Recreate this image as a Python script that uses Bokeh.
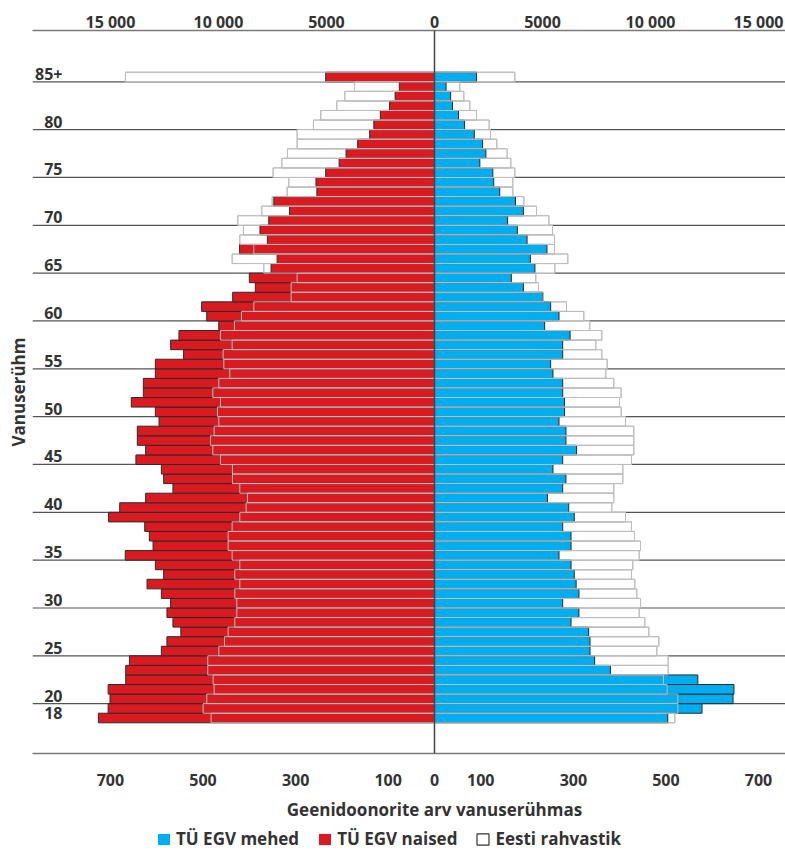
from bokeh.plotting import figure
from bokeh.layouts import column
from bokeh.models import (Range1d, LinearAxis, FixedTicker, CustomJSTickFormatter,
                          Span, Legend, LegendItem, ColumnDataSource, Title)
from bokeh.core.properties import value
from bokeh.embed import file_html
from bokeh.resources import INLINE

# ---------------- data (ages 18 ... 84, 85+) ----------------
ages = [str(a) for a in range(18, 85)] + ["85+"]
age_pos = list(range(18, 86))

women_donors = [726, 705, 701, 705, 667, 667, 659, 590, 578, 548,
                565, 578, 570, 590, 621, 585, 603, 668, 608, 616,
                626, 704, 680, 624, 565, 585, 590, 645, 624, 642,
                642, 595, 603, 655, 629, 629, 603, 603, 542, 570,
                552, 466, 492, 503, 436, 387, 400, 353, 340, 421,
                361, 377, 358, 313, 347, 254, 256, 235, 206, 191,
                166, 140, 131, 117, 97, 85, 76, 235]
women_pop = [10340, 10710, 10540, 10201, 10247, 10494, 10494, 9984, 9722, 9552,
             9244, 9151, 9151, 9244, 9012, 9244, 9012, 9367, 9552, 9552,
             9367, 9012, 8719, 8657, 9012, 9352, 9352, 9907, 10262, 10370,
             10201, 9984, 10046, 9907, 10262, 9984, 9475, 9753, 9784, 9367,
             9907, 9259, 8935, 8364, 6636, 6636, 6358, 7901, 9367, 8364,
             9012, 8843, 9105, 7995, 7514, 6821, 6744, 7469, 7068, 6806,
             6358, 6358, 5602, 5263, 4522, 4152, 3704, 14306]
men_donors = [504, 578, 645, 647, 569, 380, 346, 336, 336, 333,
              295, 312, 277, 312, 306, 302, 295, 269, 295, 295,
              277, 302, 290, 244, 277, 284, 256, 277, 307, 284,
              284, 269, 281, 281, 277, 277, 256, 251, 277, 277,
              293, 238, 269, 251, 234, 192, 166, 217, 207, 243,
              200, 179, 158, 192, 175, 141, 128, 126, 98, 111,
              104, 86, 65, 52, 39, 35, 25, 91]
men_pop = [11127, 11265, 11265, 10772, 10602, 10818, 10818, 10293, 10386, 9923,
           9738, 9475, 9537, 9367, 9275, 9120, 9182, 9475, 9537, 9259,
           9120, 8843, 8210, 8302, 8302, 8719, 8719, 9120, 9228, 9228,
           9228, 8843, 8642, 8565, 8642, 8302, 7932, 7994, 7747, 7469,
           7747, 7191, 6914, 6111, 5030, 4815, 4691, 5571, 6173, 5556,
           5556, 5463, 5293, 4722, 4136, 3627, 3627, 3718, 3534, 3364,
           2886, 2593, 2531, 1944, 1636, 1358, 1173, 3718]

top_ticks = [-15000, -10000, -5000, 0, 5000, 10000, 15000]
bottom_ticks = [-700, -500, -300, -100, 0, 100, 300, 500, 700]
grid_labels = ["85+", "80", "75", "70", "65", "60", "55", "50", "45", "40",
               "35", "30", "25", "20"]
first_label = "18"
x_title = "Geenidoonorite arv vanuserühmas"
y_title = "Vanuserühm"
legend_labels = ["TÜ EGV mehed", "TÜ EGV naised", "Eesti rahvastik"]

# ---------------- styling ----------------
FONT = "Open Sans"
RED = "#da1a21"
BLUE = "#00aeef"
DARK = "#2b2b2b"
GREY = "#bdbdbd"
TXT = "#333333"

K = 15000 / 700          # population per donor on the shared scale
X0, X1 = -868.4, 758.3
xr = Range1d(X0, X1)

p = figure(width=785, height=793, x_range=xr,
           y_range=Range1d(14.29, 89.86), output_backend="svg",
           toolbar_location=None, y_axis_location=None,
           min_border_left=32, min_border_right=0,
           min_border_top=30, min_border_bottom=40)
p.extra_x_ranges = {"pop": Range1d(X0 * K, X1 * K)}
p.xgrid.visible = False
p.ygrid.visible = False
p.outline_line_color = None

src = ColumnDataSource(dict(
    y=age_pos,
    wd=[-v for v in women_donors],
    wp=[-v for v in women_pop],
    md=men_donors,
    mp=men_pop,
))

# horizontal guide lines at labelled ages
gy = [(85 if g == "85+" else int(g)) - 0.5 for g in grid_labels]
p.segment(x0=[X0] * len(gy), x1=[X1] * len(gy), y0=gy, y1=gy,
          line_color="#555555", line_width=1.2)

# layer 1: population bars
p.hbar(y="y", left="wp", right=0, height=1, source=src, x_range_name="pop",
       fill_color="white", line_color=GREY, line_width=1)
p.hbar(y="y", left=0, right="mp", height=1, source=src, x_range_name="pop",
       fill_color="white", line_color=GREY, line_width=1)
# layer 2: donor bars
p.hbar(y="y", left="wd", right=0, height=1, source=src,
       fill_color=RED, line_color=DARK, line_width=1)
p.hbar(y="y", left=0, right="md", height=1, source=src,
       fill_color=BLUE, line_color=DARK, line_width=1)
# layer 3: population outlines over donors
p.hbar(y="y", left="wp", right=0, height=1, source=src, x_range_name="pop",
       fill_color=None, line_color=GREY, line_width=1)
p.hbar(y="y", left=0, right="mp", height=1, source=src, x_range_name="pop",
       fill_color=None, line_color=GREY, line_width=1)

p.add_layout(Span(location=0, dimension="height", line_color="#444444",
                  line_width=1.5))

# age labels
LX = -803.6
p.text(x=[LX] * len(gy), y=gy, text=grid_labels, text_align="right",
       text_baseline="bottom", y_offset=-2, text_font=value(FONT),
       text_font_style="bold", text_font_size="16px", text_color=TXT)
p.text(x=[LX], y=[19.5], text=[first_label], text_align="right",
       text_baseline="top", y_offset=3, text_font=value(FONT),
       text_font_style="bold", text_font_size="16px", text_color=TXT)

# axes
def style_axis(ax, standoff):
    ax.axis_line_color = "#7a7a7a"
    ax.axis_line_width = 1.5
    ax.major_tick_line_color = None
    ax.minor_tick_line_color = None
    ax.major_label_text_font = FONT
    ax.major_label_text_font_style = "bold"
    ax.major_label_text_font_size = "16px"
    ax.major_label_text_color = TXT
    ax.major_label_standoff = standoff

bax = p.xaxis[0]
bax.ticker = FixedTicker(ticks=bottom_ticks)
bax.formatter = CustomJSTickFormatter(code="return Math.abs(Math.round(tick)).toString();")
style_axis(bax, 14)

top_fmt = CustomJSTickFormatter(code="""
const v = Math.abs(Math.round(tick));
if (v >= 10000) { const s = v.toString(); return s.slice(0, s.length - 3) + ' ' + s.slice(-3); }
return v.toString();
""")
tax = LinearAxis(x_range_name="pop", ticker=FixedTicker(ticks=top_ticks),
                 formatter=top_fmt)
style_axis(tax, -8)
p.add_layout(tax, "above")

ytitle = Title(text=y_title, align="center", standoff=6,
               text_font=FONT, text_font_style="bold",
               text_font_size="17px", text_color=TXT)
p.add_layout(ytitle, "left")

# ---------------- footer: x title + legend ----------------
f = figure(width=785, height=57, x_range=xr, y_range=Range1d(0, 57),
           output_backend="svg", toolbar_location=None,
           x_axis_location=None, y_axis_location=None,
           min_border_left=32, min_border_right=0,
           min_border_top=0, min_border_bottom=0)
f.xgrid.visible = False
f.ygrid.visible = False
f.outline_line_color = None

f.text(x=[0], y=[41], text=[x_title], text_align="center",
       text_baseline="alphabetic", text_font=value(FONT),
       text_font_style="bold", text_font_size="17px", text_color=TXT)

r_m = f.hbar(y="y", left=0, right="md", height=1, source=src,
             fill_color=BLUE, line_color=None, visible=False)
r_w = f.hbar(y="y", left="wd", right=0, height=1, source=src,
             fill_color=RED, line_color=None, visible=False)
r_p = f.hbar(y="y", left=0, right="mp", height=1, source=src,
             fill_color="white", line_color="#333333", line_width=1.2,
             visible=False)
legend = Legend(items=[LegendItem(label=legend_labels[0], renderers=[r_m]),
                       LegendItem(label=legend_labels[1], renderers=[r_w]),
                       LegendItem(label=legend_labels[2], renderers=[r_p])],
                location=(124, 0), orientation="horizontal",
                glyph_width=15, glyph_height=14, label_standoff=5, spacing=18,
                padding=0, margin=0, border_line_color=None,
                background_fill_alpha=0, inactive_fill_alpha=0,
                label_text_font=FONT,
                label_text_font_style="bold", label_text_font_size="17px",
                label_text_color=TXT)
f.add_layout(legend)

open("out.html", "w").write(file_html(column(p, f, spacing=0), INLINE))
